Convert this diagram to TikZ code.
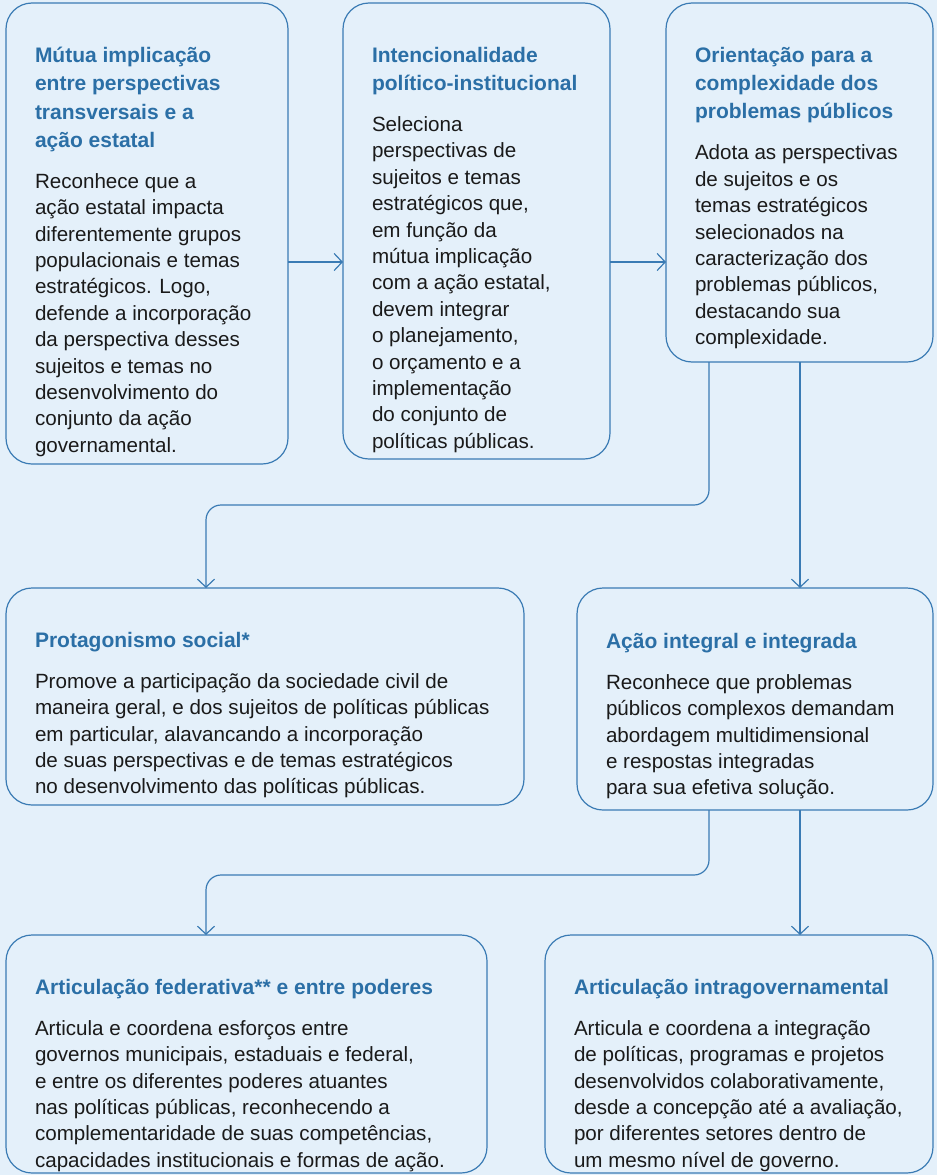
\documentclass[tikz,border=0pt]{standalone}
\usepackage{fontspec}
\setmainfont{Liberation Sans}
\usetikzlibrary{arrows.meta}
\definecolor{bg}{HTML}{E4F0FA}
\definecolor{edge}{HTML}{3A7BB4}
\definecolor{ttl}{HTML}{2B6FA6}
\definecolor{txt}{HTML}{1A1A1A}
\newcommand{\ttlfont}{\fontsize{21}{28.3}\selectfont\bfseries\color{ttl}}
\newcommand{\bdyfont}{\fontsize{20.6}{26.4}\selectfont\color{txt}}
\newcommand{\boxtext}[2]{\parbox[t]{520pt}{\raggedright{\ttlfont #1\par}\vspace{14.6pt}{\bdyfont #2\par}}}
\tikzset{
  card/.style={draw=edge, line width=1.2pt, rounded corners=26pt, fill=bg, anchor=north west, inner sep=0pt, outer sep=0pt},
  txtnode/.style={anchor=base west, inner sep=0pt, outer sep=0pt},
  arr/.style={draw=edge, line width=1.2pt, -{Straight Barb[length=8pt,width=17pt,line width=1.2pt]}},
}
\begin{document}
\begin{tikzpicture}[x=1pt,y=-1pt]
\fill[bg] (0,0) rectangle (937,1175);
\useasboundingbox (0,0) rectangle (937,1175);
% boxes
\node[card, minimum width=282pt, minimum height=461pt] (b1) at (6,3) {};
\node[card, minimum width=267pt, minimum height=456pt] (b2) at (343,3) {};
\node[card, minimum width=267pt, minimum height=359pt] (b3) at (666,3) {};
\node[card, minimum width=518pt, minimum height=217pt] (b4) at (6,588) {};
\node[card, minimum width=356pt, minimum height=222pt] (b5) at (577,588) {};
\node[card, minimum width=481pt, minimum height=238pt] (b6) at (6,935) {};
\node[card, minimum width=388pt, minimum height=238pt] (b7) at (545,935) {};
% texts
\node[txtnode] (t1) at (35,47) {\boxtext{Mútua implicação\\entre perspectivas\\transversais e a\\ação estatal}{Reconhece que a\\ação estatal impacta\\diferentemente grupos\\populacionais e temas\\estratégicos. Logo,\\defende a incorporação\\da perspectiva desses\\sujeitos e temas no\\desenvolvimento do\\conjunto da ação\\governamental.}};
\node[txtnode] (t2) at (372,47) {\boxtext{Intencionalidade\\político-institucional}{Seleciona\\perspectivas de\\sujeitos e temas\\estratégicos que,\\em função da\\mútua implicação\\com a ação estatal,\\devem integrar\\o planejamento,\\o orçamento e a\\implementação\\do conjunto de\\políticas públicas.}};
\node[txtnode] (t3) at (695,47) {\boxtext{Orientação para a\\complexidade dos\\problemas públicos}{Adota as perspectivas\\de sujeitos e os\\temas estratégicos\\selecionados na\\caracterização dos\\problemas públicos,\\destacando sua\\complexidade.}};
\node[txtnode] (t4) at (35,632) {\boxtext{Protagonismo social*}{Promove a participação da sociedade civil de\\maneira geral, e dos sujeitos de políticas públicas\\em particular, alavancando a incorporação\\de suas perspectivas e de temas estratégicos\\no desenvolvimento das políticas públicas.}};
\node[txtnode] (t5) at (606,633) {\boxtext{Ação integral e integrada}{Reconhece que problemas\\públicos complexos demandam\\abordagem multidimensional\\e respostas integradas\\para sua efetiva solução.}};
\node[txtnode] (t6) at (35,979) {\boxtext{Articulação federativa** e entre poderes}{Articula e coordena esforços entre\\governos municipais, estaduais e federal,\\e entre os diferentes poderes atuantes\\nas políticas públicas, reconhecendo a\\complementaridade de suas competências,\\capacidades institucionais e formas de ação.}};
\node[txtnode] (t7) at (574,979) {\boxtext{Articulação intragovernamental}{Articula e coordena a integração\\de políticas, programas e projetos\\desenvolvidos colaborativamente,\\desde a concepção até a avaliação,\\por diferentes setores dentro de\\um mesmo nível de governo.}};
% connector guide coordinates
\coordinate (h1) at (0,262);
\coordinate (xa) at (709,0);
\coordinate (xb) at (800,0);
\coordinate (xl) at (206,0);
\coordinate (ya) at (0,505);
\coordinate (yb) at (0,875);
% connectors
\draw[arr] (b1.east |- h1) -- (b2.west |- h1);
\draw[arr] (b2.east |- h1) -- (b3.west |- h1);
\draw[arr, rounded corners=15pt] (b3.south -| xa) -- (xa |- ya) -- (xl |- ya) -- (b4.north -| xl);
\draw[arr] (b3.south -| xb) -- (b5.north -| xb);
\draw[arr, rounded corners=15pt] (b5.south -| xa) -- (xa |- yb) -- (xl |- yb) -- (b6.north -| xl);
\draw[arr] (b5.south -| xb) -- (b7.north -| xb);
\end{tikzpicture}
\end{document}
